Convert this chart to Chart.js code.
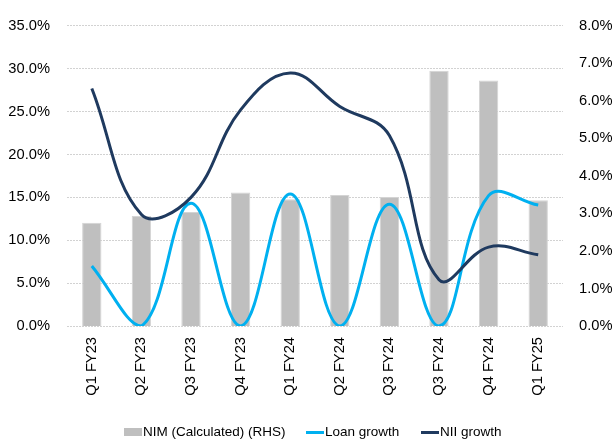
<!DOCTYPE html>
<html>
<head>
<meta charset="utf-8">
<script src="https://cdn.jsdelivr.net/npm/chart.js@4/dist/chart.umd.min.js"></script>
<style>
  html, body { margin: 0; padding: 0; background: #fff; }
  #wrap { position: relative; width: 614px; height: 444px; }
  #legend { position: absolute; left: 0; top: 423px; width: 614px; height: 18px;
            font: 13.5px 'Liberation Sans', Arial, sans-serif; color: #000; }
  .item { position: absolute; top: 0; height: 18px; line-height: 18px; white-space: nowrap; }
  .mk { position: absolute; left: 0; width: 18px; }
  .txt { position: absolute; left: 19px; top: 0; }
</style>
</head>
<body>
<div id="wrap">
  <canvas id="c" width="614" height="444"></canvas>
  <div id="legend"></div>
</div>
<script>
// Quarters on the category axis
const quarters = ['Q1 FY23', 'Q2 FY23', 'Q3 FY23', 'Q4 FY23', 'Q1 FY24',
                  'Q2 FY24', 'Q3 FY24', 'Q3 FY24', 'Q4 FY24', 'Q1 FY25'];
// Net interest margin, right-hand scale (%)
const nimCalculated = [2.75, 2.93, 3.04, 3.56, 3.38, 3.49, 3.44, 6.80, 6.54, 3.35];
// Growth rates, left-hand scale (%)
const loanGrowth = [7.0, 0.0, 14.3, 0.0, 15.4, 0.0, 14.2, 0.0, 15.2, 14.1];
const niiGrowth = [27.7, 13.0, 15.0, 25.2, 29.5, 25.6, 22.2, 5.4, 9.2, 8.3];
// Axis ranges
const leftTicks = { min: 0, max: 35, step: 5 };
const rightTicks = { min: 0, max: 8, step: 1 };

const seriesNames = ['NIM (Calculated) (RHS)', 'Loan growth', 'NII growth'];
const colors = { bar: '#bfbfbf', barEdge: '#d4d4d4', loan: '#00b0f0', nii: '#1f3a5f', grid: '#d2d2d2', text: '#000' };

Chart.defaults.font.family = "'Liberation Sans', Arial, sans-serif";
Chart.defaults.color = colors.text;

const pct = v => Number(v).toFixed(1) + '%';

new Chart(document.getElementById('c'), {
  data: {
    labels: quarters,
    datasets: [
      { type: 'line', label: seriesNames[1], data: loanGrowth, yAxisID: 'y',
        borderColor: colors.loan, borderWidth: 3, tension: 0.4, pointRadius: 0, order: 1 },
      { type: 'line', label: seriesNames[2], data: niiGrowth, yAxisID: 'y',
        borderColor: colors.nii, borderWidth: 3, tension: 0.4, pointRadius: 0, order: 0 },
      { type: 'bar', label: seriesNames[0], data: nimCalculated, yAxisID: 'y2',
        backgroundColor: colors.bar, borderColor: colors.barEdge, borderWidth: 1,
        barPercentage: 0.39, categoryPercentage: 1, order: 2 }
    ]
  },
  options: {
    responsive: false,
    animation: false,
    layout: { padding: { top: 17, left: 0, right: 0, bottom: 0 } },
    plugins: { legend: { display: false }, tooltip: { enabled: false } },
    scales: {
      x: {
        offset: true,
        grid: { display: false, drawTicks: false },
        border: { display: false },
        ticks: { minRotation: 90, maxRotation: 90, padding: 11, font: { size: 14.7 }, autoSkip: false },
        afterFit: s => { s.height = 118; }
      },
      y: {
        position: 'left',
        min: leftTicks.min, max: leftTicks.max,
        grid: { color: colors.grid, lineWidth: 1, drawTicks: false },
        border: { display: false, dash: [2, 1] },
        ticks: { stepSize: leftTicks.step, padding: 17, font: { size: 14.7 }, callback: pct },
        afterFit: s => { s.width = 67; }
      },
      y2: {
        position: 'right',
        min: rightTicks.min, max: rightTicks.max,
        grid: { display: false, drawTicks: false },
        border: { display: false },
        ticks: { stepSize: rightTicks.step, padding: 16, font: { size: 14.7 }, callback: pct },
        afterFit: s => { s.width = 51; }
      }
    }
  }
});

// Legend row under the chart
const legendItems = [
  { name: seriesNames[0], left: 124, mark: 'background:' + colors.bar + ';height:8px;top:5px;' },
  { name: seriesNames[1], left: 306, mark: 'background:' + colors.loan + ';height:3px;top:8px;' },
  { name: seriesNames[2], left: 421, mark: 'background:' + colors.nii + ';height:3px;top:8px;' }
];
const lg = document.getElementById('legend');
legendItems.forEach(it => {
  const d = document.createElement('div');
  d.className = 'item';
  d.style.left = it.left + 'px';
  d.innerHTML = '<span class="mk" style="' + it.mark + '"></span><span class="txt"></span>';
  d.querySelector('.txt').textContent = it.name;
  lg.appendChild(d);
});
</script>
</body>
</html>
